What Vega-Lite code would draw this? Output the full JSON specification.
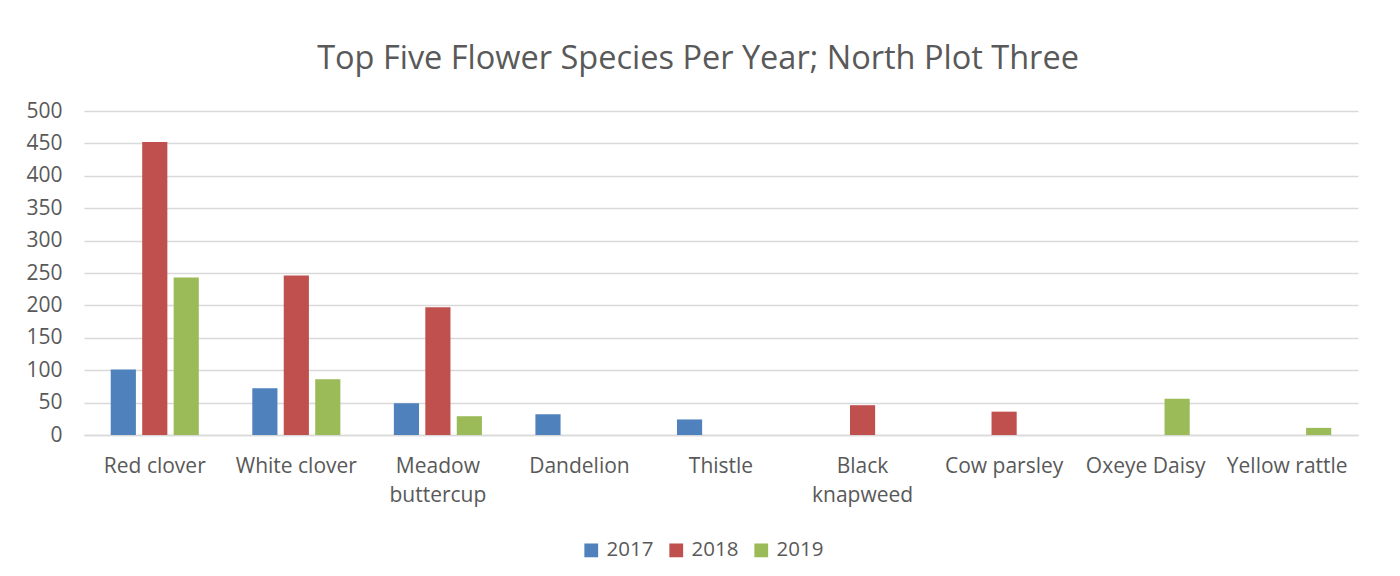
{
  "$schema": "https://vega.github.io/schema/vega-lite/v6.json",
  "width": 1274,
  "height": 324,
  "autosize": {"type": "none"},
  "padding": {"left": 84, "top": 111, "right": 42, "bottom": 141},
  "background": "white",
  "config": {
    "font": "Open Sans",
    "view": {"stroke": null},
    "axis": {"labelColor": "#595959", "labelFont": "Open Sans", "labelFontSize": 21, "ticks": false, "titleColor": "#595959"}
  },
  "title": {
    "text": "Top Five Flower Species Per Year; North Plot Three",
    "fontSize": 32.5,
    "fontWeight": "normal",
    "color": "#595959",
    "font": "Open Sans",
    "anchor": "middle",
    "offset": 25,
    "dx": -23
  },
  "data": {
    "values": [
      {"species": "Red clover", "year": "2017", "count": 101},
      {"species": "Red clover", "year": "2018", "count": 452},
      {"species": "Red clover", "year": "2019", "count": 243},
      {"species": "White clover", "year": "2017", "count": 72},
      {"species": "White clover", "year": "2018", "count": 246},
      {"species": "White clover", "year": "2019", "count": 86},
      {"species": "Meadow buttercup", "year": "2017", "count": 49},
      {"species": "Meadow buttercup", "year": "2018", "count": 197},
      {"species": "Meadow buttercup", "year": "2019", "count": 29},
      {"species": "Dandelion", "year": "2017", "count": 32},
      {"species": "Thistle", "year": "2017", "count": 24},
      {"species": "Black knapweed", "year": "2018", "count": 46},
      {"species": "Cow parsley", "year": "2018", "count": 36},
      {"species": "Oxeye Daisy", "year": "2019", "count": 56},
      {"species": "Yellow rattle", "year": "2019", "count": 11}
    ]
  },
  "mark": {"type": "bar"},
  "encoding": {
    "x": {
      "field": "species",
      "type": "nominal",
      "sort": ["Red clover", "White clover", "Meadow buttercup", "Dandelion", "Thistle", "Black knapweed", "Cow parsley", "Oxeye Daisy", "Yellow rattle"],
      "scale": {"paddingInner": 0, "paddingOuter": 0},
      "axis": {
        "title": null,
        "labelAngle": 0,
        "labelPadding": 20,
        "labelLineHeight": 29,
        "domainColor": "#d9d9d9",
        "domainWidth": 1.5,
        "labelExpr": "datum.label == 'Meadow buttercup' ? ['Meadow', 'buttercup'] : datum.label == 'Black knapweed' ? ['Black', 'knapweed'] : datum.label"
      }
    },
    "xOffset": {
      "field": "year",
      "type": "nominal",
      "scale": {"paddingInner": 0.2, "paddingOuter": 0.85}
    },
    "y": {
      "field": "count",
      "type": "quantitative",
      "scale": {"domain": [0, 500]},
      "axis": {
        "title": null,
        "values": [0, 50, 100, 150, 200, 250, 300, 350, 400, 450, 500],
        "domain": false,
        "labelPadding": 22,
        "gridColor": "#d9d9d9",
        "gridWidth": 1.5
      }
    },
    "color": {
      "field": "year",
      "type": "nominal",
      "scale": {"domain": ["2017", "2018", "2019"], "range": ["#4F81BD", "#C0504D", "#9BBB59"]},
      "legend": {
        "title": null,
        "orient": "none",
        "direction": "horizontal",
        "legendX": 497,
        "legendY": 429,
        "symbolType": "square",
        "symbolSize": 190,
        "symbolStrokeWidth": 0,
        "labelFontSize": 20.5,
        "labelColor": "#595959",
        "labelFont": "Open Sans",
        "columnPadding": 12,
        "labelOffset": 5
      }
    }
  }
}
